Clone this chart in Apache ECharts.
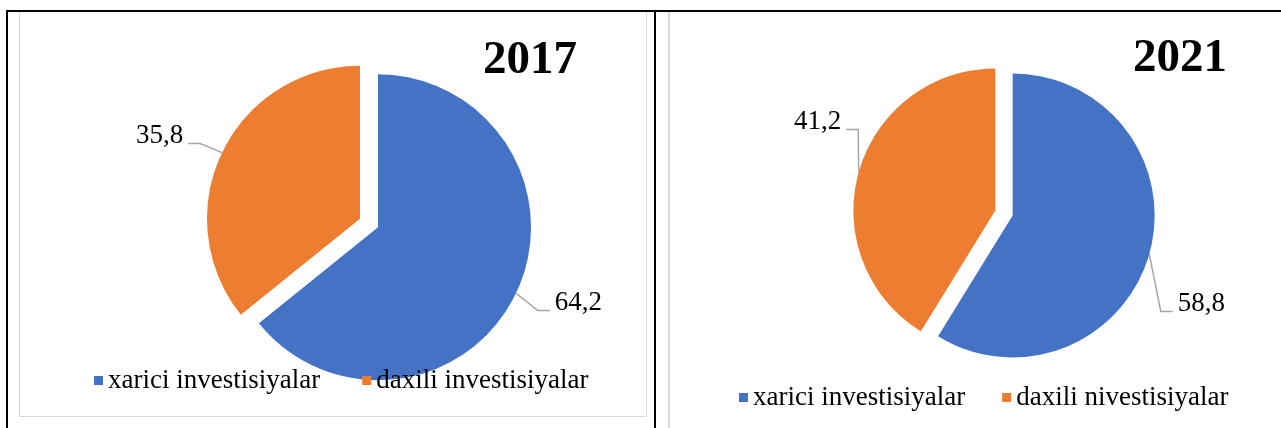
<!DOCTYPE html>
<html lang="az">
<head>
  <meta charset="UTF-8">
  <title>Investisiyalar 2017 / 2021</title>
  <script src="https://cdn.jsdelivr.net/npm/echarts@6/dist/echarts.min.js"></script>
  <style>
    body { margin: 0; background: #fff; }
    #wrap { position: relative; width: 1281px; height: 428px; overflow: hidden; }
    .line { position: absolute; }
    #chart { position: absolute; left: 0; top: 0; width: 1281px; height: 428px; }
  </style>
</head>
<body>
  <div id="wrap">
    <!-- table borders -->
    <div class="line" style="left:6px;top:10px;width:1275px;height:2px;background:#000"></div>
    <div class="line" style="left:6px;top:10px;width:2px;height:418px;background:#000"></div>
    <div class="line" style="left:654px;top:10px;width:2px;height:418px;background:#000"></div>
    <!-- chart frames -->
    <div class="line" style="left:19px;top:12px;width:626px;height:404px;border:1px solid #d9d9d9;border-top:none"></div>
    <div class="line" style="left:668px;top:12px;width:2px;height:416px;background:#d9d9d9"></div>
    <div id="chart"></div>
  </div>

  <script>
    var aYears = ['2017', '2021'];
    var aNames2017 = ['xarici investisiyalar', 'daxili investisiyalar'];
    var aNames2021 = ['xarici investisiyalar', 'daxili nivestisiyalar'];
    var aValues2017 = [64.2, 35.8];
    var aValues2021 = [58.8, 41.2];
    var aColors = ['#4472C4', '#ED7D31'];

    // label nudges [dx, dy] per series / slice, so the leader lines bend like Excel's
    var aLabelNudge = [[[11, 4], [-11, -12]], [[0, 46], [11, -47]]];
    var lineBelow = 8; // leader line runs a little under the label middle

    function buildData(names, values) {
      var out = [];
      for (var i = 0; i < names.length; i++) {
        out.push({ name: names[i], value: values[i], selected: true, itemStyle: { color: aColors[i] } });
      }
      return out;
    }

    function nudge(idx) {
      return function (p) {
        var n = aLabelNudge[idx][p.dataIndex];
        var res = { dx: n[0], dy: n[1] };
        var pts = p.labelLinePoints;
        if (pts && pts.length === 3) {
          res.labelLinePoints = [
            [pts[0][0], pts[0][1]],
            [pts[1][0] + n[0], pts[1][1] + n[1] + lineBelow],
            [pts[2][0] + n[0], pts[2][1] + n[1] + lineBelow]
          ];
        }
        return res;
      };
    }

    var serif = '"Liberation Serif", "Times New Roman", serif';
    var oChart = echarts.init(document.getElementById('chart'));

    var labelOpt = {
      show: true,
      position: 'outside',
      fontFamily: serif,
      fontSize: 27,
      color: '#000',
      formatter: function (p) { return String(p.value).replace('.', ','); }
    };
    var lineOpt = { show: true, length: 12, length2: 12, lineStyle: { color: '#a6a6a6', width: 1.5 } };
    var legendText = { fontFamily: serif, fontSize: 27, color: '#000' };

    var opt = {
      animation: false,
      title: [
        { text: aYears[0], left: 478, top: 32, textStyle: { fontFamily: serif, fontSize: 47, fontWeight: 'bold', color: '#000' } },
        { text: aYears[1], left: 1128, top: 30, textStyle: { fontFamily: serif, fontSize: 47, fontWeight: 'bold', color: '#000' } }
      ],
      legend: [
        {
          data: aNames2017, left: 94, top: 367, padding: 0, icon: 'rect', itemWidth: 9, itemHeight: 9, itemGap: 42,
          selectedMode: false, textStyle: legendText
        },
        {
          data: aNames2021, left: 739, top: 384, padding: 0, icon: 'rect', itemWidth: 9, itemHeight: 9, itemGap: 37,
          selectedMode: false, textStyle: legendText
        }
      ],
      series: [
        {
          name: aYears[0],
          type: 'pie',
          center: [369, 223],
          radius: 153,
          selectedMode: 'multiple',
          selectedOffset: 10,
          emphasis: { disabled: true },
          label: labelOpt,
          labelLine: lineOpt,
          labelLayout: nudge(0),
          data: buildData(aNames2017, aValues2017)
        },
        {
          name: aYears[1],
          type: 'pie',
          center: [1004, 213],
          radius: 142,
          selectedMode: 'multiple',
          selectedOffset: 9,
          emphasis: { disabled: true },
          label: labelOpt,
          labelLine: lineOpt,
          labelLayout: nudge(1),
          data: buildData(aNames2021, aValues2021)
        }
      ]
    };
    oChart.setOption(opt);
  </script>
</body>
</html>
